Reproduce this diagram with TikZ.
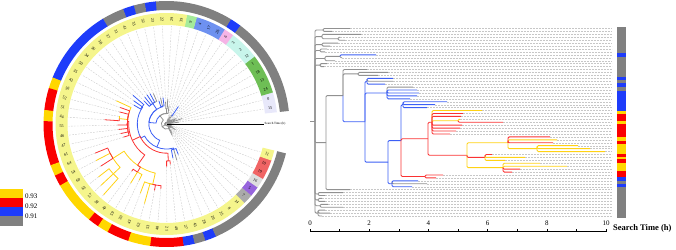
\documentclass[tikz,border=0pt]{standalone}
\usepackage{fontspec}
\setmainfont{Liberation Serif}
\usetikzlibrary{calc}
\definecolor{cG}{RGB}{128,128,128}
\definecolor{cB}{RGB}{30,60,250}
\definecolor{cR}{RGB}{250,0,0}
\definecolor{cY}{RGB}{255,215,0}
\definecolor{tG}{RGB}{145,145,145}
\definecolor{tB}{RGB}{60,95,245}
\definecolor{tR}{RGB}{250,50,50}
\definecolor{tY}{RGB}{255,210,20}
\definecolor{bLav}{RGB}{232,232,250}
\definecolor{bGrn}{RGB}{110,190,85}
\definecolor{bCyn}{RGB}{200,245,235}
\definecolor{bPnk}{RGB}{245,180,230}
\definecolor{bBlu}{RGB}{110,145,240}
\definecolor{bLgr}{RGB}{165,235,155}
\definecolor{bYel}{RGB}{245,245,140}
\definecolor{bGry}{RGB}{170,170,170}
\definecolor{bPur}{RGB}{150,100,220}
\definecolor{bLgy}{RGB}{222,222,222}
\definecolor{bSal}{RGB}{240,100,100}
% tree node: name, x (px, right plot), leaf position
\newcommand\dnode[3]{%
  \expandafter\xdef\csname tx-#1\endcsname{#2}%
  \expandafter\xdef\csname tp-#1\endcsname{#3}%
  \pgfmathsetmacro\tmpy{249-(28.5+2.93*(#3))}%
  \coordinate (#1r) at (#2,\tmpy);
  \pgfmathsetmacro\tmpa{8.7+5.23*(#3)}%
  \pgfmathsetmacro\tmpr{((#2)-310)*0.321}%
  \pgfmathsetmacro\tmpx{166.5+\tmpr*cos(\tmpa)}%
  \pgfmathsetmacro\tmpyy{125+\tmpr*sin(\tmpa)}%
  \coordinate (#1c) at (\tmpx,\tmpyy);
}
% leaf: index, tip x
\newcommand\dleaf[2]{%
  \dnode{L#1}{#2}{#1}%
  \pgfmathsetmacro\tmpy{249-(28.5+2.93*(#1))}%
  \coordinate (L#1e) at (612,\tmpy);
  \pgfmathsetmacro\tmpa{8.7+5.23*(#1)}%
  \coordinate (L#1o) at ($(ctr)+(\tmpa:98pt)$);
  \draw[dl] (L#1r) -- (L#1e);
  \draw[dl] (L#1c) -- (L#1o);
}
% edge: parent, child, colour
\newcommand\dedge[3]{%
  \draw[tbr,#3] (#1r) |- (#2r);
  \expandafter\let\expandafter\pP\csname tp-#1\endcsname
  \expandafter\let\expandafter\pC\csname tp-#2\endcsname
  \expandafter\let\expandafter\pX\csname tx-#1\endcsname
  \pgfmathsetmacro\tap{8.7+5.23*\pP}%
  \pgfmathsetmacro\tac{8.7+5.23*\pC}%
  \pgfmathsetmacro\trp{(\pX-310)*0.321}%
  \draw[cbr,#3] (#1c) arc[start angle=\tap, end angle=\tac, radius=\trp pt] -- (#2c);
}
\begin{document}
\begin{tikzpicture}[x=1pt,y=1pt,
  tbr/.style={line width=0.9pt, rounded corners=1.2pt},
  cbr/.style={line width=0.8pt},
  dl/.style={draw=black!22, line width=0.35pt, dash pattern=on 1.8pt off 1.2pt},
  lab/.style={font=\fontsize{4.1}{4.5}\selectfont, inner sep=0pt},
  ]
\useasboundingbox (0,0) rectangle (676,249);
\coordinate (ctr) at (166.5,125);

% ---- outer ring
\foreach \s/\e/\c in {0/8/cG,9/9/cB,10/16/cG,17/17/cB,18/18/cG,19/19/cB,20/21/cG,22/28/cB,29/29/cY,30/31/cR,32/32/cY,33/36/cR,37/37/cY,38/38/cR,39/42/cY,43/43/cR,44/44/cY,45/46/cR,47/48/cY,49/51/cR,52/52/cB,53/53/cG,54/54/cB,55/64/cG}{
  \pgfmathsetmacro\aa{8.7+5.23*(\s-0.5)}
  \pgfmathsetmacro\ab{8.7+5.23*(\e+0.5)+0.15}
  \fill[\c] ($(ctr)+(\aa:114pt)$) arc[start angle=\aa,end angle=\ab,radius=114pt] -- ($(ctr)+(\ab:123pt)$) arc[start angle=\ab,end angle=\aa,radius=123pt] -- cycle;
}
% ---- label band
\foreach \s/\e/\c in {0/1/bLav,2/5/bGrn,6/8/bCyn,9/9/bPnk,10/12/bBlu,13/13/bLgr,14/58/bYel,59/59/bGry,60/60/bPur,61/61/bLgy,62/63/bSal,64/64/bYel}{
  \pgfmathsetmacro\aa{8.7+5.23*(\s-0.5)}
  \pgfmathsetmacro\ab{8.7+5.23*(\e+0.5)+0.15}
  \fill[\c] ($(ctr)+(\aa:99pt)$) arc[start angle=\aa,end angle=\ab,radius=99pt] -- ($(ctr)+(\ab:111pt)$) arc[start angle=\ab,end angle=\aa,radius=111pt] -- cycle;
}
\foreach \i/\l in {0/15,1/0,2/24,3/13,4/18,5/1,6/12,7/2,8/3,9/6,10/26,11/17,12/4,13/9,14/39,15/29,16/22,17/23,18/32,19/33,20/41,21/31,22/37,23/38,24/36,25/34,26/50,27/35,28/42,29/56,30/52,31/51,32/44,33/55,34/46,35/47,36/61,37/64,38/54,39/60,40/63,41/57,42/58,43/40,44/59,45/30,46/43,47/62,48/53,49/48,50/21,51/49,52/27,53/45,54/28,55/20,56/25,57/8,58/14,59/7,60/5,61/16,62/19,63/10,64/11}{
  \pgfmathsetmacro\ang{8.7+5.23*\i}
  \pgfmathsetmacro\rot{ifthenelse(and(\ang>90,\ang<270),\ang-180,\ang)}
  \node[lab,rotate=\rot] (lab\i) at ($(ctr)+(\ang:105pt)$) {\l};
}

% ---- legend
\fill[cY] (0,51) rectangle (23,60);
\fill[cR] (0,42.3) rectangle (23,51);
\fill[cB] (0,33.3) rectangle (23,42.3);
\fill[cG] (0,23.3) rectangle (23,33.3);
\node[anchor=west, font=\fontsize{7}{8}\selectfont, inner sep=0pt] (lg93) at (25,52.3) {0.93};
\node[anchor=west, font=\fontsize{7}{8}\selectfont, inner sep=0pt] (lg92) at (25,42.3) {0.92};
\node[anchor=west, font=\fontsize{7}{8}\selectfont, inner sep=0pt] (lg91) at (25,33) {0.91};

% ---- right colour bar
\fill[cG] (617,31.3) rectangle (626,222);
\foreach \ya/\yb/\c in {192.3/195.7/cB,169/171.7/cB,162.3/165.7/cB,138.3/158.3/cB,135/138.3/cY,128.3/135/cR,125/128.3/cY,111.7/125/cR,108.3/111.7/cY,105/108.3/cR,95/105/cY,91.7/95/cR,89.7/91.7/cY,86.3/89.7/cR,78.3/86.3/cY,71.7/78.3/cR,68.3/71.7/cB,62.3/65/cB}{
  \fill[\c] (617,\ya) rectangle (626,\yb);
}

% ---- right axis
\draw[line width=0.6pt] (310,18) coordinate (ax0) -- (607,18) coordinate (ax1);
\foreach \k in {0,...,10}{\draw[line width=0.5pt] (310+29.6*\k,18) -- ++(0,2.5);}
\foreach \k in {0,2,...,10}{\node[font=\fontsize{7}{8}\selectfont, inner sep=0pt] (tk\k) at (310+29.6*\k,25.5) {\k};}
\node[anchor=west, font=\fontsize{8.5}{9}\selectfont\bfseries, inner sep=0pt] (stl) at (613,21) {Search Time (h)};

% ---- tree: internal nodes
\dnode{R}{315}{31.75}
\dnode{T1}{323}{0.5}
\dnode{T2a}{338}{3.5}
\dnode{T2}{322}{2.75}
\dnode{T3}{322}{5.5}
\dnode{T4}{320}{7.5}
\dnode{T5a}{340}{9.5}
\dnode{T5}{325}{10.25}
\dnode{T6}{320}{12.5}
\dnode{Du2}{358}{15.5}
\dnode{F}{367}{18}
\dnode{G}{387}{22}
\dnode{K}{403}{26}
\dnode{J1a}{458}{31.5}
\dnode{J1}{432}{32}
\dnode{N2}{537}{41}
\dnode{N}{508}{39}
\dnode{Mm}{485}{44}
\dnode{Mb}{503}{47.5}
\dnode{M}{467}{43.25}
\dnode{J}{428}{37.625}
\dnode{Ir}{425}{50.5}
\dnode{I}{401}{38.25}
\dnode{Hb}{392}{53}
\dnode{H}{388}{45.625}
\dnode{E}{365}{31.8125}
\dnode{D}{343}{22.906}
\dnode{C}{326}{38.953}
\dnode{B1}{318}{56.5}
\dnode{B2}{318}{58.5}
\dnode{B3}{320}{60.5}
\dnode{B4}{318}{63}
% ---- leaves
\dleaf{0}{350}\dleaf{1}{332}\dleaf{2}{361}\dleaf{3}{340}\dleaf{4}{345}
\dleaf{5}{338}\dleaf{6}{330}\dleaf{7}{327}\dleaf{8}{325}\dleaf{9}{376}
\dleaf{10}{342}\dleaf{11}{335}\dleaf{12}{327}\dleaf{13}{324}
\dleaf{14}{367}\dleaf{15}{388}\dleaf{16}{378}
\dleaf{17}{393}\dleaf{18}{393}\dleaf{19}{385}
\dleaf{20}{413}\dleaf{21}{417}\dleaf{22}{419}\dleaf{23}{417}\dleaf{24}{410}
\dleaf{25}{447}\dleaf{26}{435}\dleaf{27}{427}
\dleaf{28}{482}\dleaf{29}{463}\dleaf{30}{461}\dleaf{31}{460}\dleaf{32}{503}
\dleaf{33}{462}\dleaf{34}{460}\dleaf{35}{456}\dleaf{36}{450}
\dleaf{37}{550}\dleaf{38}{557}\dleaf{39}{553}\dleaf{40}{578}\dleaf{41}{590}\dleaf{42}{605}
\dleaf{43}{492}\dleaf{44}{525}\dleaf{45}{505}
\dleaf{46}{540}\dleaf{47}{567}\dleaf{48}{520}\dleaf{49}{512}
\dleaf{50}{443}\dleaf{51}{436}
\dleaf{52}{418}\dleaf{53}{427}\dleaf{54}{412}
\dleaf{55}{350}
\dleaf{56}{343}\dleaf{57}{325}\dleaf{58}{322}\dleaf{59}{325}\dleaf{60}{328}
\dleaf{61}{343}\dleaf{62}{325}\dleaf{63}{330}\dleaf{64}{322}
% ---- root stub
\coordinate (Rs) at ($(Rr)+(-5,0)$);
\draw[tbr,tG] (Rs) -- (Rr);
% ---- edges
\dedge{R}{T1}{tG}\dedge{R}{T2}{tG}\dedge{R}{T3}{tG}\dedge{R}{T4}{tG}
\dedge{R}{T5}{tG}\dedge{R}{T6}{tG}\dedge{R}{C}{tG}
\dedge{R}{B1}{tG}\dedge{R}{B2}{tG}\dedge{R}{B3}{tG}\dedge{R}{B4}{tG}
\dedge{T1}{L0}{tG}\dedge{T1}{L1}{tG}
\dedge{T2}{L2}{tG}\dedge{T2}{T2a}{tG}\dedge{T2a}{L3}{tG}\dedge{T2a}{L4}{tG}
\dedge{T3}{L5}{tG}\dedge{T3}{L6}{tG}
\dedge{T4}{L7}{tG}\dedge{T4}{L8}{tG}
\dedge{T5}{L11}{tG}\dedge{T5}{T5a}{tG}\dedge{T5a}{L10}{tG}\dedge{T5a}{L9}{tB}
\dedge{T6}{L12}{tG}\dedge{T6}{L13}{tG}
\dedge{C}{L55}{tG}\dedge{C}{D}{tG}
\dedge{D}{L14}{tG}\dedge{D}{Du2}{tG}\dedge{D}{E}{tB}
\dedge{Du2}{L15}{tG}\dedge{Du2}{L16}{tG}
\dedge{E}{F}{tB}\dedge{E}{G}{tB}\dedge{E}{H}{tB}
\dedge{F}{L18}{tG}\dedge{F}{L17}{tB}\dedge{F}{L19}{tB}
\dedge{G}{L20}{tG}\dedge{G}{L21}{tB}\dedge{G}{L22}{tB}\dedge{G}{L23}{tB}\dedge{G}{L24}{tB}
\dedge{H}{I}{tB}\dedge{H}{Hb}{tB}
\dedge{Hb}{L53}{tG}\dedge{Hb}{L52}{tB}\dedge{Hb}{L54}{tB}
\dedge{I}{K}{tB}\dedge{I}{Ir}{tR}\dedge{I}{J}{tR}
\dedge{K}{L25}{tB}\dedge{K}{L26}{tB}\dedge{K}{L27}{tB}
\dedge{J}{J1}{tR}\dedge{J}{M}{tR}
\dedge{J1}{L28}{tY}\dedge{J1}{J1a}{tY}\dedge{J1}{L29}{tR}\dedge{J1}{L30}{tR}
\dedge{J1}{L33}{tR}\dedge{J1}{L34}{tR}\dedge{J1}{L35}{tR}\dedge{J1}{L36}{tR}
\dedge{J1a}{L31}{tY}\dedge{J1a}{L32}{tR}
\dedge{M}{N}{tY}\dedge{M}{Mb}{tY}\dedge{M}{Mm}{tR}
\dedge{N}{N2}{tY}\dedge{N}{L38}{tY}\dedge{N}{L37}{tR}\dedge{N}{L39}{tR}
\dedge{N2}{L40}{tY}\dedge{N2}{L41}{tY}\dedge{N2}{L42}{tY}
\dedge{Mm}{L44}{tY}\dedge{Mm}{L45}{tY}\dedge{Mm}{L43}{tR}
\dedge{Mb}{L46}{tY}\dedge{Mb}{L47}{tY}\dedge{Mb}{L48}{tR}\dedge{Mb}{L49}{tR}
\dedge{Ir}{L50}{tR}\dedge{Ir}{L51}{tR}
\dedge{B1}{L56}{tG}\dedge{B1}{L57}{tG}
\dedge{B2}{L58}{tG}\dedge{B2}{L59}{tG}
\dedge{B3}{L60}{tG}\dedge{B3}{L61}{tG}
\dedge{B4}{L62}{tG}\dedge{B4}{L63}{tG}\dedge{B4}{L64}{tG}

% ---- circular axis
\draw[line width=0.5pt] (ctr) -- ++(97,0) coordinate (cax1);
\foreach \k in {1,...,10}{\draw[line width=0.35pt] ($(ctr)+(9.7*\k,0)$) -- ++(0,-1.5);}
\node[anchor=west, font=\fontsize{3.2}{3.5}\selectfont, inner sep=0.5pt] (cal) at ($(cax1)+(0.5,0)$) {Search Time (h)};
\end{tikzpicture}
\end{document}
